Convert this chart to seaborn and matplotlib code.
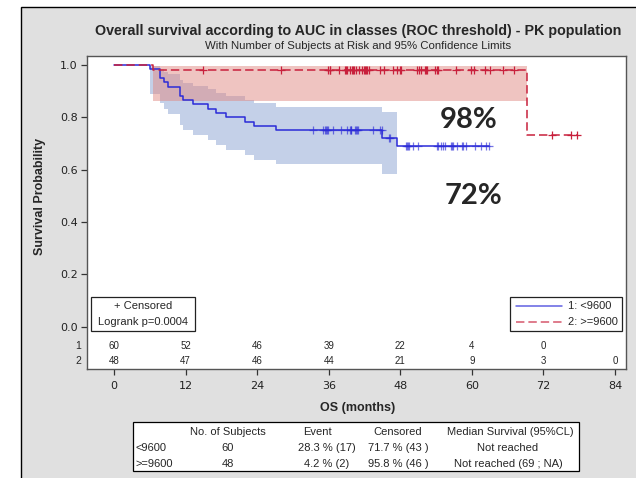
import numpy as np
import pandas as pd
import matplotlib
matplotlib.use("Agg")
import matplotlib.pyplot as plt
import seaborn as sns
from matplotlib.patches import Rectangle
from matplotlib.lines import Line2D

# ---- data (months) -------------------------------------------------------
# AUC < 9600 (n = 60): 17 deaths, 43 censored
low_event_times = [6.0, 7.7, 7.7, 8.4, 9.0, 11.0, 11.0, 11.6, 13.3, 15.8,
                   17.1, 18.8, 22.0, 23.5, 27.2, 45.0, 47.5]
low_censor_times = [33.3, 35.0, 35.3, 35.5, 35.7, 35.8,
                    36.8, 38.1, 39.0, 39.6, 39.7, 39.8, 40.4, 40.5, 40.7, 40.9,
                    43.4, 44.6, 44.9,
                    46.1, 46.3,
                    49.0, 49.2, 49.3, 49.4, 50.1, 51.0, 54.1, 54.4, 54.8, 55.1,
                    55.5, 56.5, 56.6, 56.8, 57.5, 58.3, 58.5, 59.1,
                    60.5, 61.5, 62.4, 62.9]

# AUC >= 9600 (n = 48): 2 deaths, 46 censored
high_event_times = [6.5, 69.3]
high_censor_times = [15.0, 28.0, 35.8,
                     36.2, 36.3, 37.8, 38.7, 38.9, 39.0, 39.6, 39.9, 40.1, 40.3,
                     40.5, 41.1, 41.6, 41.9, 42.1, 42.3, 42.5, 42.8, 44.6, 45.2,
                     46.8, 47.4, 47.9,
                     48.1, 50.8, 51.1, 51.4, 52.1, 52.3, 52.5, 53.8, 54.1, 54.3,
                     57.3, 59.8,
                     60.4, 62.2, 63.0, 65.3, 67.1,
                     73.4, 76.6, 77.6]

group_labels = ["1: <9600", "2: >=9600"]
risk_times = [0, 12, 24, 36, 48, 60, 72, 84]
low_at_risk = [60, 52, 46, 39, 22, 4, 0]
high_at_risk = [48, 47, 46, 44, 21, 9, 3, 0]

pct_labels = ["98%", "72%"]

table_header = ["No. of Subjects", "Event", "Censored", "Median Survival (95%CL)"]
table_rows = [
    ["<9600", "60", "28.3 % (17)", "71.7 % (43 )", "Not reached"],
    [">=9600", "48", "4.2 % (2)", "95.8 % (46 )", "Not reached (69 ; NA)"],
]

title = "Overall survival according to AUC in classes (ROC threshold) - PK population"
subtitle = "With Number of Subjects at Risk and 95% Confidence Limits"


def kaplan_meier(events, censored):
    """Product-limit estimate with log-log Greenwood 95% limits."""
    all_t = np.array(events + censored, dtype=float)
    ev = np.array(events, dtype=float)
    times = np.unique(ev)
    surv, gw = 1.0, 0.0
    s_out, lo_out, hi_out = [], [], []
    for t in times:
        n = np.sum(all_t >= t)
        d = np.sum(ev == t)
        surv *= 1.0 - d / n
        gw += d / (n * (n - d))
        se = np.sqrt(gw) / abs(np.log(surv))
        lo_out.append(surv ** np.exp(1.96 * se))
        hi_out.append(surv ** np.exp(-1.96 * se))
        s_out.append(surv)
    return times, np.array(s_out), np.array(lo_out), np.array(hi_out)


BLUE = "#2b2bd8"
RED = "#c8203c"
BLUE_BAND = "#8aa2d2"
RED_BAND = "#e08a84"
DASH = (0, (5.5, 2.6))

fig = plt.figure(figsize=(6.36, 4.78), dpi=100)
fig.patch.set_facecolor("white")
fig.patches.append(Rectangle((21 / 636, -0.01), 1.0, (478 - 7) / 478 + 0.01,
                             transform=fig.transFigure, facecolor="#e0e0e0",
                             edgecolor="black", linewidth=1.0, zorder=-10))

ax = fig.add_axes([87 / 636, 1 - 369 / 478, (626 - 87) / 636, (369 - 56) / 478])
ax.set_facecolor("white")
sns.set_style("white")

plt.rcParams["font.family"] = ["Liberation Sans", "DejaVu Sans"]

groups = [
    (low_event_times, low_censor_times, BLUE, BLUE_BAND, "-", 0.65),
    (high_event_times, high_censor_times, RED, RED_BAND, DASH, 1.0),
]

# confidence bands first, so the curves sit on top
for events, cens, col, band, ls, malpha in groups:
    t, s, lo, hi = kaplan_meier(events, cens)
    ax.fill_between(t, lo, hi, step="post", color=band, alpha=0.5,
                    linewidth=0, zorder=1)

for events, cens, col, band, ls, malpha in groups:
    t, s, lo, hi = kaplan_meier(events, cens)
    last = max(cens + events)
    xs = np.concatenate([[0.0], t, [last]])
    ys = np.concatenate([[1.0], s, [s[-1]]])
    df = pd.DataFrame({"time": xs, "surv": ys})
    sns.lineplot(data=df, x="time", y="surv", drawstyle="steps-post",
                 estimator=None, sort=False, color=col, linewidth=1.1,
                 linestyle=ls, ax=ax, zorder=3)
    cens_arr = np.array(cens)
    idx = np.searchsorted(t, cens_arr, side="right")
    s_full = np.concatenate([[1.0], s])
    cdf = pd.DataFrame({"time": cens_arr, "surv": s_full[idx]})
    sns.scatterplot(data=cdf, x="time", y="surv", marker="+", s=26,
                    color=col, linewidth=0.9, alpha=malpha, ax=ax, zorder=4)

# percentages written on the panel
ax.text(59.5, 0.79, pct_labels[0], fontsize=21, fontweight="bold",
        family=["Lato", "DejaVu Sans"], ha="center", va="center")
ax.text(60.2, 0.50, pct_labels[1], fontsize=21, fontweight="bold",
        family=["Lato", "DejaVu Sans"], ha="center", va="center")

# axes limits, ticks, frame
ax.set_xlim(-4.53, 85.85)
ax.set_ylim(-0.1616, 1.0344)
ax.set_xticks(risk_times)
ax.set_xticklabels([str(v) for v in risk_times], fontsize=8)
ax.set_yticks([0.0, 0.2, 0.4, 0.6, 0.8, 1.0])
ax.set_yticklabels(["0.0", "0.2", "0.4", "0.6", "0.8", "1.0"], fontsize=8)
ax.tick_params(axis="both", direction="out", length=4.3, width=0.9,
               color="#333333", pad=2.5, labelcolor="#222222")
ax.tick_params(axis="x", pad=4)
ax.set_xlabel("")
ax.set_ylabel("")
for sp in ax.spines.values():
    sp.set_visible(True)
    sp.set_color("#555555")
    sp.set_linewidth(1.0)

# numbers at risk rows
row_y = [-0.074, -0.131]
for n_list, yy in zip([low_at_risk, high_at_risk], row_y):
    for tt, nn in zip(risk_times, n_list):
        ax.text(tt, yy, str(nn), fontsize=7, ha="center", va="center")
for lab, yy in zip(["1", "2"], row_y):
    ax.text(-5.5, yy, lab, fontsize=7.5, ha="right", va="center", clip_on=False)

# censor / log-rank box
ax.add_patch(Rectangle((0.0074, 0.121), 0.193, 0.109, transform=ax.transAxes,
                       facecolor="white", edgecolor="#222222", linewidth=0.9,
                       zorder=5))
ax.text(0.104, 0.201, "+ Censored", transform=ax.transAxes, fontsize=8,
        ha="center", va="center", zorder=6)
ax.text(0.104, 0.150, "Logrank p=0.0004", transform=ax.transAxes, fontsize=8,
        ha="center", va="center", zorder=6)

# group legend box
ax.add_patch(Rectangle((0.784, 0.121), 0.209, 0.109, transform=ax.transAxes,
                       facecolor="white", edgecolor="#222222", linewidth=0.9,
                       zorder=5))
for i, (col, ls) in enumerate([(BLUE, "-"), (RED, DASH)]):
    yy = 0.201 - i * 0.051
    ax.add_line(Line2D([0.795, 0.882], [yy, yy], transform=ax.transAxes,
                       color=col, linestyle=ls, linewidth=1.1, alpha=0.75,
                       zorder=6))
    ax.text(0.893, yy, group_labels[i], transform=ax.transAxes, fontsize=8,
            ha="left", va="center", zorder=6)

# titles and axis labels
fig.text(358.5 / 636, 1 - 34.5 / 478, title, fontsize=10.3, fontweight="bold",
         ha="center", va="baseline")
fig.text(358 / 636, 1 - 49 / 478, subtitle, fontsize=8.2,
         ha="center", va="baseline")
fig.text(40 / 636, 1 - 196 / 478, "Survival Probability", fontsize=9,
         fontweight="bold", rotation=90, ha="center", va="center")
fig.text(358 / 636, 1 - 408 / 478, "OS (months)", fontsize=9,
         fontweight="bold", ha="center", va="center")

# summary table
fig.patches.append(Rectangle((133 / 636, 1 - 471 / 478), (579 - 133) / 636,
                             (471 - 422) / 478, transform=fig.transFigure,
                             facecolor="white", edgecolor="black",
                             linewidth=0.9))
hdr_x = [228, 317, 398, 510]
val_x = [228, 327, 398, 508]
row_yp = [432, 448, 464]
for hx, h in zip(hdr_x, table_header):
    fig.text(hx / 636, 1 - row_yp[0] / 478, h, fontsize=8, ha="center",
             va="center")
for r, row in enumerate(table_rows):
    yy = 1 - row_yp[r + 1] / 478
    fig.text(135.5 / 636, yy, row[0], fontsize=8, ha="left", va="center")
    for vx, v in zip(val_x, row[1:]):
        fig.text(vx / 636, yy, v, fontsize=8, ha="center", va="center")

fig.savefig("out.png", dpi=100)
